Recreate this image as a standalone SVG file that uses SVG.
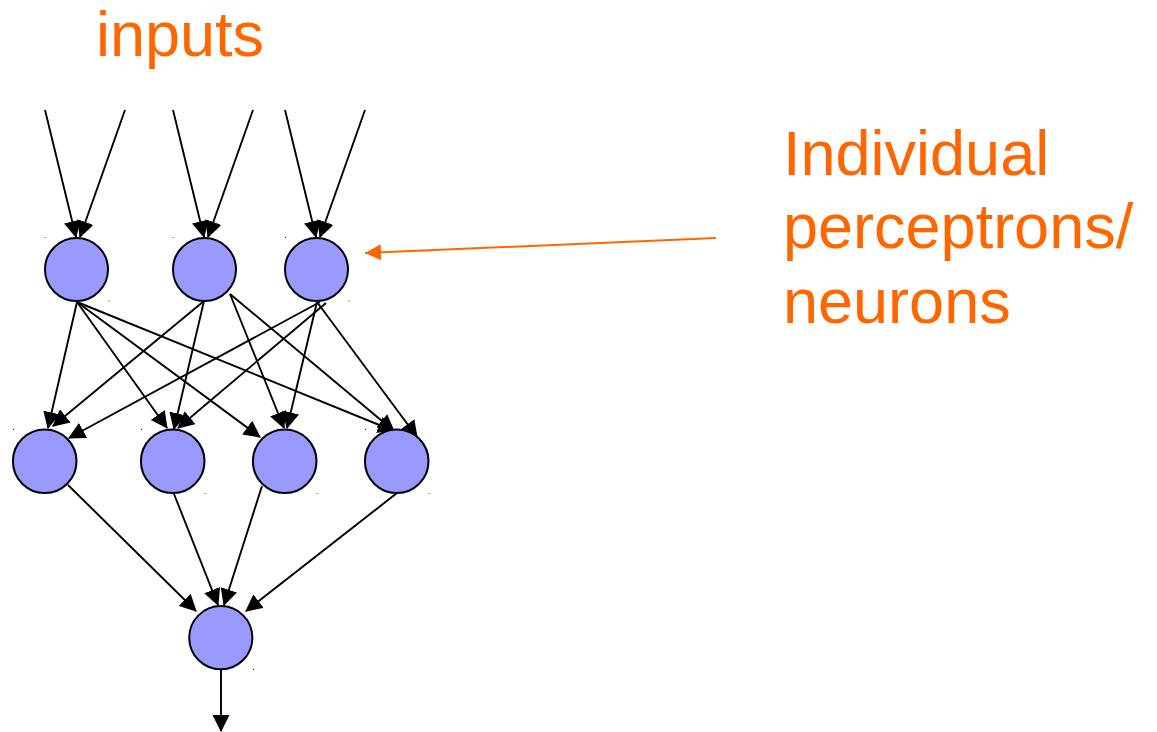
<svg xmlns="http://www.w3.org/2000/svg" width="1157" height="732" viewBox="0 0 1157 732">
<style>
.lbl{font-family:"Liberation Sans",Arial,sans-serif;font-size:63px;fill:#FF6600}
.node{fill:#9999FF;stroke:#000;stroke-width:2}
.edge{stroke:#000;stroke-width:1.9;fill:none;marker-end:url(#ah)}
.dot{fill:#333}
</style>
<defs>
<marker id="ah" markerUnits="userSpaceOnUse" markerWidth="17" markerHeight="17" viewBox="0 0 16 16" refX="15" refY="8" orient="auto">
<path d="M0,0 L16,8 L0,16 z" fill="#000"/>
</marker>
<marker id="ahO" markerUnits="userSpaceOnUse" markerWidth="17" markerHeight="17" viewBox="0 0 17 17" refX="16" refY="8.5" orient="auto">
<path d="M0,0.5 L16,8.5 L0,16.5 z" fill="#FF6600"/>
</marker>
</defs>
<rect width="1157" height="732" fill="#fff"/>
<text class="lbl" x="96" y="56">inputs</text>
<g id="label-perceptrons">
<text class="lbl" x="783" y="175">Individual</text>
<text class="lbl" x="783" y="248">perceptrons/</text>
<text class="lbl" x="783" y="323">neurons</text>
</g>
<g id="connectors">
<line class="edge" x1="45" y1="110" x2="76" y2="237"/>
<line class="edge" x1="125" y1="110" x2="80" y2="237"/>
<line class="edge" x1="173" y1="110" x2="204" y2="237"/>
<line class="edge" x1="253" y1="110" x2="208" y2="237"/>
<line class="edge" x1="285" y1="110" x2="316" y2="237"/>
<line class="edge" x1="365" y1="110" x2="320" y2="237"/>
<line class="edge" x1="77" y1="302" x2="48" y2="428"/>
<line class="edge" x1="77" y1="302" x2="167" y2="428"/>
<line class="edge" x1="77" y1="302" x2="260" y2="437"/>
<line class="edge" x1="77" y1="302" x2="394" y2="431"/>
<line class="edge" x1="204" y1="301" x2="53" y2="426"/>
<line class="edge" x1="204" y1="301" x2="174" y2="429"/>
<line class="edge" x1="230" y1="294" x2="284" y2="428"/>
<line class="edge" x1="230" y1="294" x2="394" y2="431"/>
<line class="edge" x1="320" y1="302" x2="69" y2="438"/>
<line class="edge" x1="326" y1="303" x2="178" y2="428"/>
<line class="edge" x1="317" y1="302" x2="287" y2="428"/>
<line class="edge" x1="317" y1="302" x2="417" y2="437"/>
<line class="edge" x1="68" y1="485" x2="196" y2="611"/>
<line class="edge" x1="174" y1="494" x2="218" y2="605"/>
<line class="edge" x1="262" y1="486" x2="224" y2="605"/>
<line class="edge" x1="397" y1="493" x2="246" y2="611"/>
<line class="edge" x1="221" y1="669" x2="221" y2="731"/>
<line x1="716" y1="238" x2="365" y2="253" stroke="#FF6600" stroke-width="2" marker-end="url(#ahO)"/>
</g>
<g id="n-top1"><circle class="node" cx="76.5" cy="269.5" r="31.5"/></g>
<g id="n-top2"><circle class="node" cx="204.5" cy="269.5" r="31.5"/></g>
<g id="n-top3"><circle class="node" cx="316.5" cy="269.5" r="31.5"/></g>
<g id="n-mid1"><circle class="node" cx="44.7" cy="461.3" r="31.8"/></g>
<g id="n-mid2"><circle class="node" cx="172.7" cy="461.3" r="31.8"/></g>
<g id="n-mid3"><circle class="node" cx="284.7" cy="461.3" r="31.8"/></g>
<g id="n-mid4"><circle class="node" cx="396.7" cy="461.3" r="31.8"/></g>
<g id="n-out"><circle class="node" cx="220.8" cy="637.7" r="31.6"/></g>
<g id="marks">
<rect class="dot" x="44.5" y="237" width="1" height="1"/>
<rect class="dot" x="108.5" y="300.5" width="1" height="1"/>
<rect class="dot" x="172.5" y="237" width="1" height="1"/>
<rect class="dot" x="285" y="237" width="1" height="1"/>
<rect class="dot" x="348.5" y="300.5" width="1" height="1"/>
<rect class="dot" x="13" y="429" width="1" height="1"/>
<rect class="dot" x="141" y="429" width="1" height="1"/>
<rect class="dot" x="204.5" y="493" width="1" height="1"/>
<rect class="dot" x="316.5" y="493" width="1" height="1"/>
<rect class="dot" x="365" y="429" width="1" height="1"/>
<rect class="dot" x="428.5" y="493" width="1" height="1"/>
<rect class="dot" x="253" y="669" width="1" height="1"/>
</g>
</svg>
